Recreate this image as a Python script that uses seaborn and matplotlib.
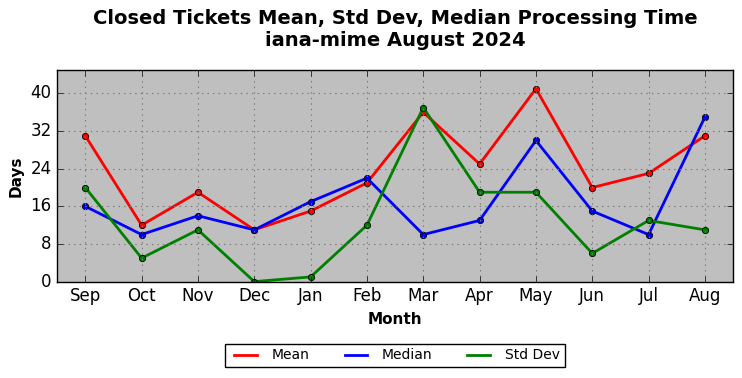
import pandas as pd
import matplotlib
matplotlib.use("Agg")
import matplotlib.pyplot as plt
import seaborn as sns

months = ["Sep", "Oct", "Nov", "Dec", "Jan", "Feb", "Mar", "Apr", "May", "Jun", "Jul", "Aug"]
mean_days = [31, 12, 19, 11, 15, 21, 36, 25, 41, 20, 23, 31]
median_days = [16, 10, 14, 11, 17, 22, 10, 13, 30, 15, 10, 35]
std_days = [20, 5, 11, 0, 1, 12, 37, 19, 19, 6, 13, 11]

df = pd.DataFrame({"Month": months, "Mean": mean_days, "Median": median_days, "Std Dev": std_days})
long = df.melt(id_vars="Month", var_name="Stat", value_name="Days")

plt.style.use("classic")
fig, ax = plt.subplots(figsize=(7.42, 3.78), dpi=100)
fig.patch.set_facecolor("white")
ax.set_facecolor("#bfbfbf")

palette = {"Mean": "red", "Median": "blue", "Std Dev": "green"}
sns.lineplot(data=long, x="Month", y="Days", hue="Stat", palette=palette, marker="o",
             markersize=4.5, markeredgecolor="black", markeredgewidth=0.6,
             linewidth=2, ax=ax, sort=False)

ax.set_xlim(-0.5, len(months) - 0.5)
ax.set_ylim(0, 45)
ax.set_yticks(range(0, 41, 8))
ax.grid(True, linestyle=":", color="#777777", linewidth=0.8)
ax.tick_params(labelsize=12)
ax.set_xlabel("Month", fontweight="bold", fontsize=11)
ax.set_ylabel("Days", fontweight="bold", fontsize=11)
ax.set_title("Closed Tickets Mean, Std Dev, Median Processing Time\niana-mime August 2024",
             fontweight="bold", fontsize=14, pad=17)

handles, labels = ax.get_legend_handles_labels()
for h in handles:
    h.set_marker("")
ax.legend(handles, labels, loc="upper center", bbox_to_anchor=(0.5, -0.26), ncol=3,
          fontsize=10, frameon=True, fancybox=False, handlelength=2.2, columnspacing=2.2,
          handletextpad=0.8, borderpad=0.35)

fig.subplots_adjust(left=0.077, right=0.988, top=0.815, bottom=0.255)
fig.savefig("out.png", dpi=100, facecolor="white")
